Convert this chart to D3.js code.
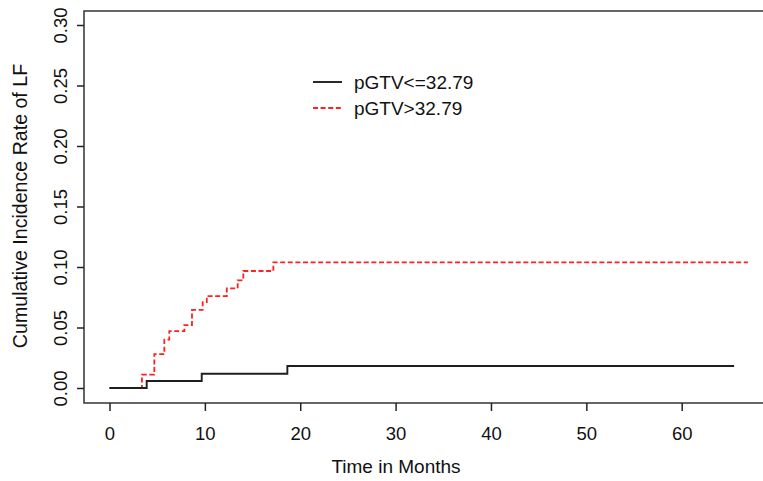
<!DOCTYPE html>
<html>
<head>
<meta charset="utf-8">
<script src="https://cdn.jsdelivr.net/npm/d3@7"></script>
<style>
    html, body { margin: 0; padding: 0; background: #fff; }
    svg { display: block; font-family: "Liberation Sans", Arial, Helvetica, sans-serif; }
</style>
</head>
<body>
<div id="chart"></div>
<script>
// cumulative incidence of LF, step curves
const lowTimes = [0, 3.9, 9.67, 18.65, 65.5];
const lowRates = [0, 0.0058, 0.0118, 0.0182, 0.0182];

const highTimes = [0, 3.4, 4.7, 5.75, 6.27, 7.85, 8.65, 9.77, 10.2, 12.3, 13.44, 14.03, 17.18, 66.95];
const highRates = [0, 0.011, 0.028, 0.040, 0.047, 0.052, 0.0645, 0.071, 0.076, 0.0824, 0.089, 0.0967, 0.1039, 0.1039];

const xTicks = [0, 10, 20, 30, 40, 50, 60];
const yTicks = [0, 0.05, 0.10, 0.15, 0.20, 0.25, 0.30];

const legendLabels = ['pGTV<=32.79', 'pGTV>32.79'];
const seriesColors = ['#1e1e1e', '#ff2020'];

const W = 763, H = 481;
const box = { left: 84, top: 11, right: 775, bottom: 403 };

const x = d3.scaleLinear().domain([0, 60]).range([109.5, 681.7]);
const y = d3.scaleLinear().domain([0, 0.30]).range([388, 25]);

const svg = d3.select('#chart')
    .append('svg')
    .attr('width', W)
    .attr('height', H);

const toPoints = (ts, vs) => ts.map((t, i) => ({ t, v: vs[i] }));
const line = d3.line()
    .x(d => x(d.t))
    .y(d => y(d.v))
    .curve(d3.curveStepAfter);

// red first, black on top (they overlap near 0)
svg.append('path')
    .datum(toPoints(highTimes, highRates))
    .attr('d', line)
    .attr('fill', 'none')
    .attr('stroke', seriesColors[1])
    .attr('stroke-width', 1.8)
    .attr('stroke-dasharray', '5,2.6');

svg.append('path')
    .datum(toPoints(lowTimes, lowRates))
    .attr('d', line)
    .attr('fill', 'none')
    .attr('stroke', seriesColors[0])
    .attr('stroke-width', 1.9);

// plot box
svg.append('rect')
    .attr('x', box.left)
    .attr('y', box.top)
    .attr('width', box.right - box.left)
    .attr('height', box.bottom - box.top)
    .attr('fill', 'none')
    .attr('stroke', '#333')
    .attr('stroke-width', 1.5);

const xAxis = svg.append('g')
    .attr('transform', `translate(0,${box.bottom})`)
    .call(d3.axisBottom(x).tickValues(xTicks).tickSize(8).tickFormat(d3.format('d')));
xAxis.select('.domain').remove();
xAxis.selectAll('line').attr('stroke', '#222').attr('stroke-width', 1.5);
xAxis.selectAll('text')
    .attr('y', 37)
    .attr('dy', 0)
    .attr('fill', '#111')
    .style('font-size', '18.5px');

const yAxis = svg.append('g')
    .attr('transform', `translate(${box.left},0)`)
    .call(d3.axisLeft(y).tickValues(yTicks).tickSize(7).tickFormat(d3.format('.2f')));
yAxis.select('.domain').remove();
yAxis.selectAll('line').attr('stroke', '#222').attr('stroke-width', 1.5);
yAxis.selectAll('text')
    .attr('x', 0)
    .attr('dy', 0)
    .attr('transform', 'translate(-17,0) rotate(-90)')
    .attr('text-anchor', 'middle')
    .attr('fill', '#111')
    .style('font-size', '18.5px');

svg.append('text')
    .attr('x', 396)
    .attr('y', 473)
    .attr('text-anchor', 'middle')
    .attr('fill', '#111')
    .style('font-size', '19px')
    .text('Time in Months');

svg.append('text')
    .attr('transform', 'translate(27,206) rotate(-90)')
    .attr('text-anchor', 'middle')
    .attr('fill', '#111')
    .style('font-size', '19.6px')
    .text('Cumulative Incidence Rate of LF');

// legend
const legend = svg.append('g').attr('transform', 'translate(313,82)');
legendLabels.forEach((label, i) => {
    const row = legend.append('g').attr('transform', `translate(0,${i * 26})`);
    row.append('line')
        .attr('x1', 0).attr('x2', 29)
        .attr('stroke', seriesColors[i])
        .attr('stroke-width', i ? 1.8 : 1.9)
        .attr('stroke-dasharray', i ? '5,2.6' : null);
    row.append('text')
        .attr('x', 41)
        .attr('y', 6.5)
        .attr('fill', '#111')
        .style('font-size', '19px')
        .text(label);
});
</script>
</body>
</html>
